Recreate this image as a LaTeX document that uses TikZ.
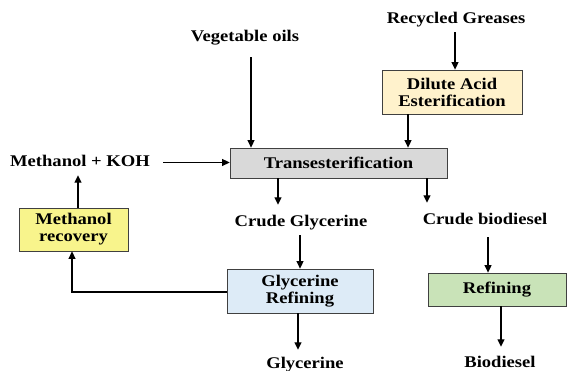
\documentclass[tikz,border=0pt]{standalone}
\usepackage{fontspec}
\setmainfont{Liberation Serif}[FakeStretch=1.14]
\usetikzlibrary{arrows.meta}
\definecolor{acidfill}{HTML}{FFF2CC}
\definecolor{recfill}{HTML}{F8F48C}
\definecolor{transfill}{HTML}{D9D9D9}
\definecolor{glyfill}{HTML}{DDEBF7}
\definecolor{reffill}{HTML}{C9E3B8}
\definecolor{boxline}{HTML}{404040}
\tikzset{
  lbl/.style={inner sep=0pt, font=\fontsize{16.3}{19}\selectfont\bfseries,
    text height=11pt, text depth=3pt},
  procbox/.style={draw=boxline, line width=0.8pt, inner sep=0pt, align=center,
    font=\fontsize{16.3}{17}\selectfont\bfseries},
  arr/.style={draw=black, line width=1.3pt, -{Triangle[length=7.5pt,width=7pt]}},
  link/.style={draw=black, line width=1.3pt}
}
\begin{document}
\begin{tikzpicture}[x=1pt,y=-1pt]
\useasboundingbox (0,0) rectangle (567,371);

% process boxes
\node[procbox, fill=acidfill, minimum width=140pt, minimum height=44pt] (dil) at (452,92) {Dilute Acid\\Esterification};
\node[procbox, fill=transfill, minimum width=217pt, minimum height=30pt] (trans) at (338.5,163) {Transesterification};
\node[procbox, fill=recfill, minimum width=109pt, minimum height=43pt] (mrec) at (73.5,229.5) {Methanol\\recovery};
\node[procbox, fill=glyfill, minimum width=146pt, minimum height=44pt] (grf) at (300,291) {Glycerine\\Refining};
\node[procbox, fill=reffill, minimum width=138pt, minimum height=33pt] (ref) at (497,289.5) {Refining};

% stream labels
\node[lbl] (veg) at (245,37.5) {Vegetable oils};
\node[lbl] (rg) at (456,19.5) {Recycled Greases};
\node[lbl] (mk) at (80,162.5) {Methanol + KOH};
\node[lbl] (cg) at (301,222.5) {Crude Glycerine};
\node[lbl] (cb) at (485,220.5) {Crude biodiesel};
\node[lbl] (gly) at (305,364.5) {Glycerine};
\node[lbl] (bio) at (500,363.5) {Biodiesel};

% feed streams
\draw[arr, shorten <=12.5pt] (veg.south -| 251,0) -- (trans.north -| 251,0);
\draw[arr, shorten <=5.5pt] (rg.south -| 455,0) -- (dil.north -| 455,0);
\draw[arr] (dil.south -| 408,0) -- (trans.north -| 408,0);
\draw[arr, shorten <=13pt] (mk.east) -- (trans.west |- mk.east);
\draw[arr, shorten >=5.5pt] (mrec.north -| 78,0) -- (mk.south -| 78,0);

% products of transesterification
\draw[arr, shorten >=10.5pt] (trans.south -| 278,0) -- (cg.north -| 278,0);
\draw[arr, shorten >=10.5pt] (trans.south -| 427,0) -- (cb.north -| 427,0);
\draw[arr, shorten <=5.5pt] (cg.south -| 300,0) -- (grf.north -| 300,0);
\draw[arr, shorten <=9.5pt] (cb.south -| 488,0) -- (ref.north -| 488,0);

% methanol return loop
\coordinate (loop) at (72,292);
\draw[arr] (grf.west |- loop) -- (loop) -- (mrec.south -| loop);

% final products
\draw[arr, shorten >=7.5pt] (grf.south -| 298,0) -- (gly.north -| 298,0);
\draw[arr, shorten >=9.5pt] (ref.south -| 501,0) -- (bio.north -| 501,0);
\end{tikzpicture}
\end{document}
